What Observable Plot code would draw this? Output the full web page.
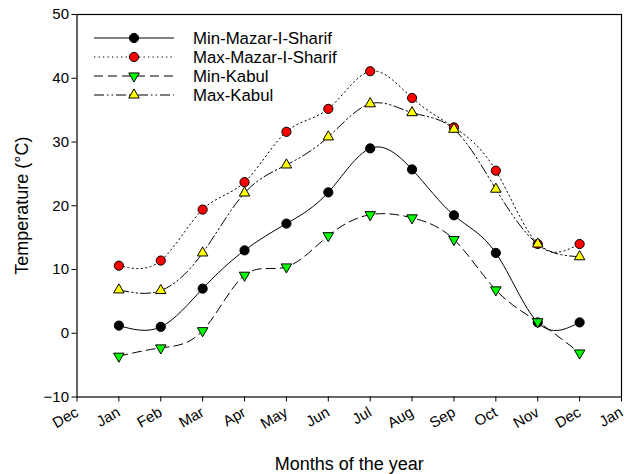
<!DOCTYPE html>
<html><head><meta charset="utf-8">
<script src="https://cdn.jsdelivr.net/npm/d3@7"></script>
<script src="https://cdn.jsdelivr.net/npm/@observablehq/plot@0.6"></script>
<style>
body{margin:0;background:#fff;}
#chart{position:relative;width:624px;height:474px;font-family:"Liberation Sans",Arial,sans-serif;}
#legend{position:absolute;left:0;top:0;pointer-events:none;}
</style></head><body><div id="chart"></div>
<script>
// ---- data ----
const tickLabels = ["Dec","Jan","Feb","Mar","Apr","May","Jun","Jul","Aug","Sep","Oct","Nov","Dec","Jan"];
const months = [1,2,3,4,5,6,7,8,9,10,11,12];
const seriesNames = ["Min-Mazar-I-Sharif","Max-Mazar-I-Sharif","Min-Kabul","Max-Kabul"];
const minMazar = [1.2, 1.0, 7.0, 13.0, 17.2, 22.1, 29.0, 25.7, 18.5, 12.6, 1.7, 1.7];
const maxMazar = [10.6, 11.4, 19.4, 23.7, 31.6, 35.2, 41.1, 36.9, 32.3, 25.5, 14.0, 14.0];
const minKabul = [-3.6, -2.3, 0.4, 9.1, 10.4, 15.3, 18.6, 18.1, 14.7, 6.8, 1.8, -3.1];
const maxKabul = [6.8, 6.7, 12.6, 22.0, 26.4, 30.8, 36.0, 34.6, 32.0, 22.6, 14.0, 12.0];

const styles = [
  {dash: null, symbol: "circle", fill: "#000000", r: 4.6, rotate: 0},
  {dash: "1.3,3.2", symbol: "circle", fill: "#ff0000", r: 4.6, rotate: 0},
  {dash: "9,5", symbol: "triangle", fill: "#00ff00", r: 3.9, rotate: 180},
  {dash: "10,3,1.5,3,1.5,3", symbol: "triangle", fill: "#ffff00", r: 3.9, rotate: 0}
];
const seriesValues = [minMazar, maxMazar, minKabul, maxKabul];
const tables = seriesValues.map((vals, i) => months.map((m, j) => ({month: m, value: vals[j], series: seriesNames[i]})));

const marks = [];
tables.forEach((data, i) => {
  const s = styles[i];
  marks.push(Plot.line(data, {x: "month", y: "value", curve: "natural", stroke: "#000", strokeWidth: 1, strokeDasharray: s.dash}));
  marks.push(Plot.dot(data, {x: "month", y: "value", symbol: s.symbol, r: s.r, fill: s.fill, stroke: "#000", strokeWidth: 1, rotate: s.rotate}));
});

const plot = Plot.plot({
  width: 624,
  height: 474,
  marginLeft: 76.5,
  marginRight: 3,
  marginTop: 14,
  marginBottom: 77.5,
  style: {fontFamily: "'Liberation Sans', Arial, sans-serif", fontSize: "15px", color: "#000", background: "#fff"},
  x: {domain: [0, 13]},
  y: {domain: [-10, 50]},
  marks: [
    Plot.frame({stroke: "#000", strokeWidth: 1.2}),
    Plot.axisX({ticks: d3.range(0, 14), tickFormat: d => tickLabels[d], tickSize: 5, tickRotate: -30, tickPadding: 9,
      label: "Months of the year", labelAnchor: "center", labelOffset: 73, labelArrow: "none", fontSize: 15}),
    Plot.axisY({ticks: d3.range(-10, 51, 10), tickSize: 5, tickPadding: 3,
      label: "Temperature (°C)", labelAnchor: "center", labelOffset: 62, labelArrow: "none", fontSize: 15}),
    ...marks
  ]
});
const chart = document.getElementById("chart");
chart.appendChild(plot);

// enlarge axis titles
d3.select(plot).selectAll("g[aria-label='x-axis label'] text, g[aria-label='y-axis label'] text").style("font-size", "18px");

// ---- legend overlay ----
const legend = d3.select(chart).append("svg").attr("id", "legend").attr("width", 624).attr("height", 474);
seriesNames.forEach((name, i) => {
  const s = styles[i];
  const y = 38 + i * 19;
  const g = legend.append("g");
  g.append("line").attr("x1", 94).attr("x2", 174).attr("y1", y).attr("y2", y)
    .attr("stroke", "#000").attr("stroke-width", 1).attr("stroke-dasharray", s.dash);
  const sym = s.symbol === "circle" ? d3.symbolCircle : d3.symbolTriangle;
  g.append("path").attr("d", d3.symbol(sym, s.r * s.r * Math.PI)())
    .attr("transform", `translate(134,${y}) rotate(${s.rotate})`)
    .attr("fill", s.fill).attr("stroke", "#000").attr("stroke-width", 1);
  g.append("text").attr("x", 193).attr("y", y).attr("dy", "0.35em")
    .attr("font-family", "'Liberation Sans', Arial, sans-serif").attr("font-size", "16.8px").text(name);
});
</script>
</body></html>
